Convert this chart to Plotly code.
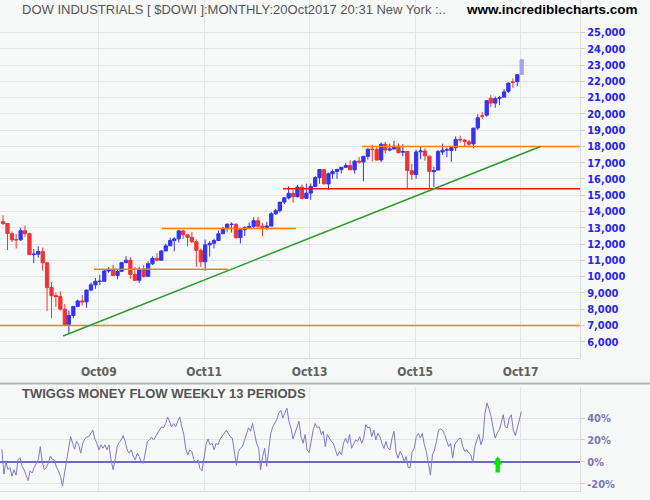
import pandas as pd
import plotly.graph_objects as go

# monthly candles, Dec 2007 .. Oct 2017 (last one is the open month)
first_month = "2007-12-01"
opens = [13371, 13262, 12638, 12266, 12264, 12820, 12638, 11350, 11378, 11544, 10847, 9325, 8829,
         8772, 8001, 7063, 7609, 8168, 8500, 8447, 9172, 9496, 9712, 9713, 10344,
         10430, 10068, 10325, 10857, 11009, 10137, 9774, 10466, 10016, 10789, 11119, 11007,
         11577, 11892, 12226, 12321, 12810, 12570, 12415, 12144, 11613, 10913, 11954, 12046,
         12221, 12632, 12952, 13212, 13214, 12391, 12880, 13009, 13092, 13437, 13099, 13027,
         13104, 13860, 14054, 14580, 14839, 15116, 14911, 15499, 14810, 15132, 15546, 16086,
         16572, 15698, 16321, 16458, 16580, 16716, 16828, 16561, 17099, 17041, 17391, 17827,
         17823, 17169, 18134, 17776, 17840, 18017, 17638, 17689, 16509, 16278, 17672, 17719,
         17405, 16452, 16546, 17661, 17783, 17754, 17924, 18434, 18393, 18283, 18158, 19135,
         19872, 19923, 20957, 20665, 20963, 21030, 21392, 21961, 21982, 22423]
highs = [13770, 13279, 12767, 12622, 13010, 13136, 12700, 11698, 11867, 11790, 10882, 9654, 9026,
         9088, 8315, 7924, 8185, 8588, 8877, 9197, 9630, 9917, 10119, 10450, 10580,
         10729, 10405, 10907, 11258, 11205, 10595, 10584, 10720, 10948, 11245, 11451, 11625,
         12020, 12391, 12419, 12876, 12876, 12570, 12753, 12284, 11716, 12284, 12187, 12329,
         12841, 13055, 13290, 13338, 13279, 12898, 13101, 13331, 13653, 13662, 13290, 13370,
         13969, 14149, 14585, 14888, 15542, 15340, 15634, 15659, 15709, 15721, 16174, 16588,
         16588, 16398, 16588, 16631, 16736, 16978, 17152, 17154, 17350, 17395, 17895, 18103,
         17951, 18244, 18288, 18175, 18351, 18190, 18137, 17711, 16933, 17799, 17978, 17888,
         17405, 16752, 17778, 18168, 17935, 18017, 18622, 18668, 18450, 18399, 19152, 19987,
         20126, 20851, 21169, 21070, 21112, 21535, 21929, 22179, 22420, 23368]
lows = [13167, 11635, 12127, 11731, 12200, 12442, 11346, 10827, 11173, 10365, 7882, 7449, 8149,
        7909, 6950, 6470, 7437, 8127, 8221, 8087, 9108, 9252, 9487, 9679, 10236,
        10039, 9835, 10325, 10856, 9870, 9757, 9614, 9936, 10016, 10712, 10929, 11006,
        11577, 11892, 11555, 12093, 12309, 11862, 12071, 10604, 10597, 10362, 11231, 11735,
        12221, 12630, 12758, 12710, 12355, 12035, 12492, 12977, 12987, 13016, 12471, 12884,
        13104, 13784, 13937, 14444, 14746, 14551, 14858, 14760, 14777, 14719, 15545, 15703,
        15699, 15340, 16017, 16015, 16333, 16675, 16563, 16333, 16943, 15855, 17192, 17068,
        17136, 17037, 17585, 17698, 17826, 17576, 17399, 15370, 15942, 16013, 17210, 17129,
        15451, 15503, 16546, 17484, 17331, 17063, 17713, 18247, 17992, 17959, 17884, 19006,
        19677, 19831, 20413, 20379, 20554, 21030, 21279, 21600, 21709, 22416]
closes = [13265, 12650, 12266, 12263, 12820, 12638, 11350, 11378, 11544, 10851, 9325, 8829, 8776,
          8001, 7063, 7609, 8168, 8500, 8447, 9172, 9496, 9712, 9713, 10345, 10428,
          10067, 10325, 10857, 11009, 10137, 9774, 10466, 10015, 10788, 11118, 11006, 11578,
          11892, 12226, 12320, 12811, 12570, 12414, 12143, 11614, 10913, 11955, 12046, 12218,
          12633, 12952, 13212, 13214, 12393, 12880, 13009, 13091, 13437, 13096, 13026, 13104,
          13861, 14054, 14579, 14840, 15116, 14910, 15500, 14810, 15130, 15546, 16086, 16577,
          15699, 16322, 16458, 16581, 16717, 16827, 16563, 17098, 17043, 17391, 17828, 17823,
          17165, 18133, 17776, 17841, 18011, 17620, 17690, 16528, 16285, 17664, 17720, 17425,
          16466, 16517, 17685, 17774, 17787, 17930, 18432, 18401, 18308, 18142, 19124, 19763,
          19864, 20812, 20663, 20941, 21009, 21350, 21891, 21948, 22405, 23329]

# support / resistance lines drawn on the chart
level_values = [7000, 10450, 12950, 15400, 18000]
level_start = ["2007-11-01", "2009-08-29", "2010-12-13", "2013-03-30", "2014-09-28"]
level_end = ["2019-01-01", "2012-03-14", "2013-06-28", "2019-01-01", "2019-01-01"]
level_colors = ["#ff8000", "#ff8000", "#ff8000", "#ff1010", "#ff8000"]
trend_dates = ["2009-01-27", "2018-02-16"]
trend_values = [6350, 18000]

# twiggs money flow, read every second week from 30 Nov 2007
tmf_start = "2007-11-30"
tmf = [11.6, -11, 0, -7, -5, -13, -7, -12, 2, 4,
       -4, -7, -12, -17, -8, -10, -5, -1, 2, 14,
       0, -7, -5, -1, 5.5, 2, 2, -5, -8, -13,
       -22, -10, 0, 12.5, 23, 17, 11.6, 18.6, 15.6, 8,
       17, 21, 22.6, 23, 26, 29, 21, 17, 11, 15.6,
       12.5, 15.6, 11, 15.6, 2, -7, 2, 14, 17.7, 20,
       24, 18.6, 11, 8, 11, 5, 2, 8, 5, -0.6,
       -1, 8, 18.6, 20, 22.6, 20, 23, 26, 29, 32,
       31, 35, 41, 37, 32, 35, 32, 37, 41, 32,
       25, 11.6, 6.4, 11, 9.5, 2, -1, 2, -6, -8,
       2, 15.6, 21, 15.6, 17, 11, 17, 15.6, 21,
       23, 26, 29, 26, 23, 21.7, 9, -3, 9.5, 12.5,
       14, 20, 25, 31, 28, 35, 26, 17, 12.5, -7,
       5, 12.5, -4, 14, 26, 32, 35, 38.5, 44.6, 47,
       40, 44.6, 49, 37, 31, 21, 26, 32, 37, 23,
       17, 25, 11, 8.5, 20, 29, 35, 31, 32, 25,
       28, 14, 25, 21.7, 18.6, 17, 11, 5.5, 9.5, 6.4,
       17, 21.7, 17, 25, 12.5, 17, 20, 18.6, 23, 17,
       21.7, 34, 31, 32, 23, 29, 20, 26, 23, 17,
       12.5, 18.6, 12.5, 11, 21.7, 28, 9, 3.4, 9.5, 6.4,
       0.3, 5, -5, -5, 9.5, 12.5, 23, 26, 21.7, 26,
       15.6, 9.5, -3, -12, 6.4, 11, 18.6, 29, 30,
       29, 25, 18.6, 14, 17, 3.4, 15.6, 18.6, 21, 21.7,
       14, 9.5, 11, 8, 6.4, -1, 14, 20, 25, 15.6,
       21.7, 44.6, 53.7, 48, 41.5, 31, 21.7, 26, 29, 35,
       43, 32, 31, 40, 43, 29, 24, 31, 38.5, 45.8]
signal_date = "2017-04-25"

price_ticks = list(range(6000, 25001, 1000))
tmf_ticks = [-20, 0, 20, 40]
year_ticks = ["2009-10-01", "2011-10-01", "2013-10-01", "2015-10-01", "2017-10-01"]
year_labels = ["Oct09", "Oct11", "Oct13", "Oct15", "Oct17"]

dates = pd.date_range(first_month, periods=len(closes), freq="MS") + pd.Timedelta(days=7)
tmf_dates = pd.date_range(tmf_start, periods=len(tmf), freq="14D")

BG = "#f7f8f8"
GRID = "#e4e4e4"
BLUE = "#3333f0"
RED = "#f03333"
TICKFONT = "DejaVu Sans Condensed, DejaVu Sans, sans-serif"

fig = go.Figure()

fig.add_trace(go.Candlestick(
    x=dates[:-1], open=opens[:-1], high=highs[:-1], low=lows[:-1], close=closes[:-1],
    increasing=dict(line=dict(color=BLUE, width=1), fillcolor=BLUE),
    decreasing=dict(line=dict(color=RED, width=1), fillcolor=RED),
    showlegend=False, xaxis="x", yaxis="y"))
fig.add_trace(go.Candlestick(
    x=dates[-1:], open=opens[-1:], high=highs[-1:], low=lows[-1:], close=closes[-1:],
    increasing=dict(line=dict(color="#a4a4f0", width=1), fillcolor="#a4a4f0"),
    decreasing=dict(line=dict(color="#a4a4f0", width=1), fillcolor="#a4a4f0"),
    showlegend=False, xaxis="x", yaxis="y"))

fig.add_trace(go.Scatter(x=tmf_dates, y=tmf, mode="lines",
                         line=dict(color="#7b7bc8", width=1),
                         showlegend=False, xaxis="x2", yaxis="y2"))

for v, x0, x1, c in zip(level_values, level_start, level_end, level_colors):
    fig.add_shape(type="line", xref="x", yref="y", x0=x0, x1=x1, y0=v, y1=v,
                  line=dict(color=c, width=1.5))
fig.add_shape(type="line", xref="x", yref="y", x0=trend_dates[0], x1=trend_dates[1],
              y0=trend_values[0], y1=trend_values[1], line=dict(color="#2f9a2f", width=1.5))

# separator between the two panes
fig.add_shape(type="line", xref="paper", yref="paper", x0=0, x1=1.13, y0=0.219, y1=0.219,
              line=dict(color="#b4b4b4", width=2))

fig.add_annotation(x=signal_date, y=5.5, ax=signal_date, ay=-11,
                   xref="x2", yref="y2", axref="x2", ayref="y2",
                   showarrow=True, arrowhead=2, arrowwidth=4.3, arrowsize=0.4,
                   arrowcolor="#00e600", text="")

fig.add_annotation(x=0.034, y=0.98, xref="paper", yref="paper", xanchor="left", yanchor="middle",
                   text="DOW INDUSTRIALS [ $DOWI ]:MONTHLY:20Oct2017 20:31 New York :..",
                   showarrow=False,
                   font=dict(family="Liberation Sans, Arial, sans-serif", size=13, color="#555555"))
fig.add_annotation(x=0.80, y=0.98, xref="paper", yref="paper", xanchor="left", yanchor="middle",
                   text="<b>www.incrediblecharts.com</b>", showarrow=False,
                   font=dict(family="Liberation Sans, Arial, sans-serif", size=13.5, color="#000000"))
fig.add_annotation(x=0.035, y=0.1976, xref="paper", yref="paper", xanchor="left", yanchor="middle",
                   text="<b>TWIGGS MONEY FLOW WEEKLY 13 PERIODS</b>", showarrow=False,
                   font=dict(family="Liberation Sans, Arial, sans-serif", size=13, color="#555555"))

fig.update_layout(
    width=650, height=500,
    margin=dict(l=0, r=70, t=0, b=9, autoexpand=False),
    paper_bgcolor=BG, plot_bgcolor=BG,
    boxgap=0.15, boxgroupgap=0.05,
    hovermode=False,
    xaxis=dict(domain=[0, 1], anchor="y", range=["2007-11-17", "2018-11-16"], automargin=False,
               rangeslider=dict(visible=False),
               tickvals=year_ticks, ticktext=year_labels, ticks="", ticklabelstandoff=3,
               tickfont=dict(family=TICKFONT, size=12, color="#606060", weight="bold"),
               showgrid=True, gridcolor=GRID, gridwidth=1,
               showline=True, linecolor="#dcdcdc", linewidth=1, zeroline=False),
    yaxis=dict(domain=[0.2709, 1], anchor="x", side="right", range=[5000, 27000], automargin=False,
               tickvals=price_ticks, ticktext=[f"{t:,}" for t in price_ticks],
               ticks="outside", ticklen=4, tickcolor="#cfcfcf",
               tickfont=dict(family=TICKFONT, size=11, color="#2424f0", weight="bold"),
               showgrid=True, gridcolor=GRID, gridwidth=1,
               showline=True, linecolor="#dcdcdc", linewidth=1, zeroline=False),
    xaxis2=dict(domain=[0, 1], anchor="y2", matches="x", range=["2007-11-17", "2018-11-16"],
                automargin=False, tickvals=year_ticks, showticklabels=False, ticks="",
                showgrid=True, gridcolor=GRID, gridwidth=1,
                showline=True, linecolor="#dcdcdc", linewidth=1, zeroline=False),
    yaxis2=dict(domain=[0, 0.2118], anchor="x2", side="right", range=[-26.4, 68.2], automargin=False,
                tickvals=tmf_ticks, ticktext=[f"{t}%" for t in tmf_ticks],
                ticks="outside", ticklen=4, tickcolor="#cfcfcf",
                tickfont=dict(family=TICKFONT, size=11, color="#7878bc", weight="bold"),
                showgrid=True, gridcolor=GRID, gridwidth=1,
                zeroline=True, zerolinecolor="#6b6bc0", zerolinewidth=1.5,
                showline=True, linecolor="#dcdcdc", linewidth=1),
)

# the page's default body margin would push the chart 8px right and down
fig.write_html("out.html", config={"displayModeBar": False},
               post_script="document.body.style.margin = '0px';")
